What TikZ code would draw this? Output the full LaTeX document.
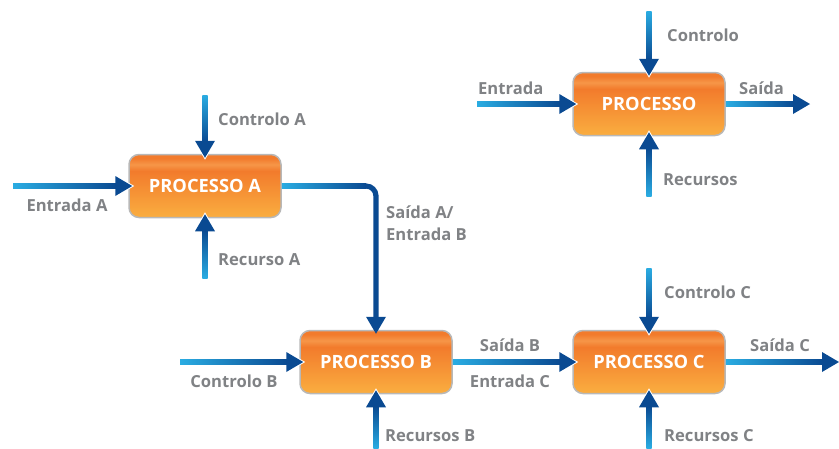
\documentclass[tikz,border=0pt]{standalone}
\usepackage{fontspec}
\setmainfont{Open Sans}
\usetikzlibrary{calc}
\definecolor{lblue}{HTML}{2AACE2}
\definecolor{dblue}{HTML}{0A4A92}
\definecolor{lgrey}{HTML}{808285}
\definecolor{boxgrey}{HTML}{B8B8B8}
\definecolor{oy}{HTML}{FAAE40}
\definecolor{od}{HTML}{F27B2C}
\definecolor{ol}{HTML}{F69648}
\definecolor{ot}{HTML}{F27A2E}
\pgfdeclareverticalshading{procshade}{100bp}{color(0bp)=(oy); color(25bp)=(oy); color(62bp)=(od); color(67bp)=(ol); color(72bp)=(od); color(100bp)=(ot)}
\tikzset{
  proc/.style={rounded corners=10pt, draw=boxgrey, line width=1.5pt, shade, shading=procshade,
    minimum width=152pt, minimum height=63pt, text=white, inner sep=0pt,
    font=\bfseries\fontsize{18.3}{21}\selectfont},
  lab/.style={text=lgrey, inner sep=0pt, font=\bfseries\fontsize{16.6}{22}\selectfont},
  headout/.style={fill=dblue, draw=white, line width=2pt, line join=miter},
  headin/.style={fill=dblue},
}
% arrow pointing right: #1 tail, #2 tip
\newcommand\arrR[2]{%
  \path[headout] (#2) -- ++(-17,-10) -- ++(0,20) -- cycle;
  \shade[left color=lblue,right color=dblue] ($(#1)+(0,-2.6)$) rectangle ($(#2)+(-16,2.6)$);
  \path[headin] (#2) -- ++(-17,-10) -- ++(0,20) -- cycle;}
% arrow pointing down
\newcommand\arrD[2]{%
  \path[headout] (#2) -- ++(-10,-17) -- ++(20,0) -- cycle;
  \shade[top color=lblue,bottom color=dblue] ($(#1)+(-2.6,0)$) rectangle ($(#2)+(2.6,-16)$);
  \path[headin] (#2) -- ++(-10,-17) -- ++(20,0) -- cycle;}
% arrow pointing up
\newcommand\arrU[2]{%
  \path[headout] (#2) -- ++(-10,17) -- ++(20,0) -- cycle;
  \shade[bottom color=lblue,top color=dblue] ($(#1)+(-2.6,0)$) rectangle ($(#2)+(2.6,16)$);
  \path[headin] (#2) -- ++(-10,17) -- ++(20,0) -- cycle;}
\begin{document}
\begin{tikzpicture}[x=1pt,y=-1pt]
\useasboundingbox (0,0) rectangle (839,448);
% boxes
\node[proc] (A) at (205,186) {PROCESSO A};
\node[proc] (P) at (649,104) {PROCESSO};
\node[proc] (B) at (376,362) {PROCESSO B};
\node[proc] (C) at (649,362) {PROCESSO C};
% free ends
\coordinate (Ain) at (13,186);
\coordinate (Actl) at (205,95);
\coordinate (Ares) at (205,278);
\coordinate (Pin) at (477,104);
\coordinate (Pout) at (810,104);
\coordinate (Pctl) at (649,11);
\coordinate (Pres) at (649,196);
\coordinate (Bin) at (180,362);
\coordinate (Bres) at (376,448);
\coordinate (Cctl) at (649,268);
\coordinate (Cres) at (649,448);
\coordinate (Cout) at (839,362);
% tips
\coordinate (tAw) at ($(A.west)+(4,0)$);
\coordinate (tAn) at ($(A.north)+(0,4)$);
\coordinate (tAs) at ($(A.south)+(0,-4)$);
\coordinate (tPw) at ($(P.west)+(4,0)$);
\coordinate (tPn) at ($(P.north)+(0,4)$);
\coordinate (tPs) at ($(P.south)+(0,-4)$);
\coordinate (tBw) at ($(B.west)+(4,0)$);
\coordinate (tBn) at ($(B.north)+(0,4)$);
\coordinate (tBs) at ($(B.south)+(0,-4)$);
\coordinate (tCw) at ($(C.west)+(4,0)$);
\coordinate (tCn) at ($(C.north)+(0,4)$);
\coordinate (tCs) at ($(C.south)+(0,-4)$);
% arrows
\arrR{Ain}{tAw}
\arrD{Actl}{tAn}
\arrU{Ares}{tAs}
\arrR{Pin}{tPw}
\arrR{P.east}{Pout}
\arrD{Pctl}{tPn}
\arrU{Pres}{tPs}
\arrR{Bin}{tBw}
\arrU{Bres}{tBs}
\arrR{B.east}{tCw}
\arrD{Cctl}{tCn}
\arrU{Cres}{tCs}
\arrR{C.east}{Cout}
% A -> B bent connector
\coordinate (bend) at (B.north |- A.east);
\shade[left color=lblue,right color=dblue] ($(A.east)+(0,-2.6)$) rectangle ($(bend)+(-10,2.6)$);
\draw[dblue,line width=5.2pt,rounded corners=10pt] ($(bend)+(-11,0)$) -| ($(tBn)+(0,-16)$);
\path[headin] (tBn) -- ++(-10,-17) -- ++(20,0) -- cycle;
% labels
\node[lab] (lAin) at (67,205) {Entrada A};
\node[lab,anchor=west] (lActl) at (218,119) {Controlo A};
\node[lab,anchor=west] (lAres) at (218,260) {Recurso A};
\node[lab,anchor=west,align=left] (lAB) at (386,223) {Saída A/\\Entrada B};
\node[lab,anchor=west] (lPctl) at (667,35) {Controlo};
\node[lab,anchor=west] (lPin) at (478,88) {Entrada};
\node[lab,anchor=west] (lPout) at (739,88) {Saída};
\node[lab,anchor=west] (lPres) at (663,180) {Recursos};
\node[lab] (lBin) at (234,381) {Controlo B};
\node[lab,anchor=west] (lBres) at (385,436) {Recursos B};
\node[lab] (lBout) at (510,345) {Saída B};
\node[lab] (lCin) at (510,381) {Entrada C};
\node[lab,anchor=west] (lCctl) at (664,292) {Controlo C};
\node[lab,anchor=west] (lCres) at (664,436) {Recursos C};
\node[lab,anchor=west] (lCout) at (750,345) {Saída C};
\end{tikzpicture}
\end{document}
